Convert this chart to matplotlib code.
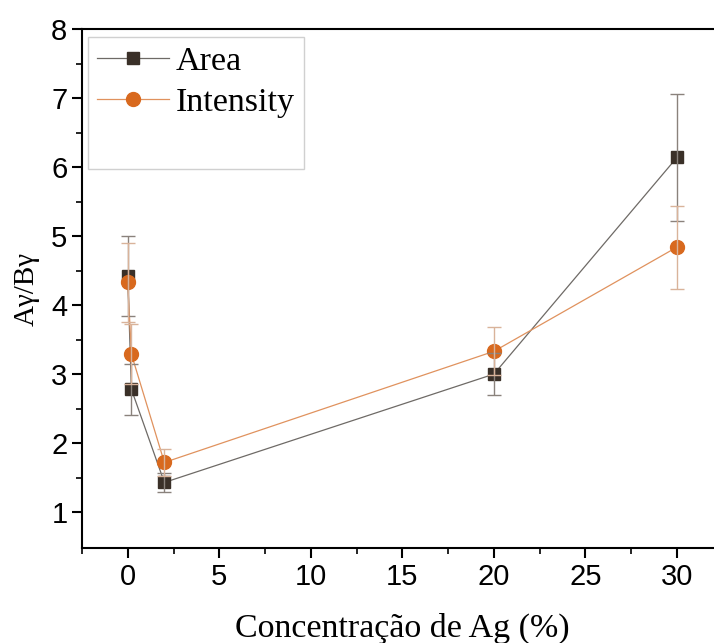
import numpy as np
import matplotlib.pyplot as plt

# dados
conc = [0, 0.2, 2, 20, 30]
area = [4.42, 2.78, 1.43, 3.00, 6.14]
area_err = [0.58, 0.37, 0.14, 0.30, 0.92]
intensity = [4.33, 3.29, 1.72, 3.33, 4.84]
intensity_err = [0.57, 0.44, 0.19, 0.35, 0.60]

serif = ['Liberation Serif', 'DejaVu Serif']
sans = ['Liberation Sans', 'DejaVu Sans']

fig = plt.figure(figsize=(7.14, 6.43), dpi=100)
ax = fig.add_axes([0.1148, 0.1477, 0.8975, 0.8072])

# linhas + marcadores
ax.plot(conc, area, color='#6e6a66', lw=0.9, marker='s', ms=9,
        mfc='#3a3028', mec='#3a3028', label='Area', zorder=2)
ax.plot(conc, intensity, color='#e0925e', lw=0.9, marker='o', ms=10,
        mfc='#d8691e', mec='#d8691e', label='Intensity', zorder=3)
ax.plot([], [], color='none', label=' ')

# barras de erro por cima
ax.errorbar(conc, area, yerr=area_err, fmt='none', ecolor='#8a827c',
            elinewidth=1.0, capsize=5, capthick=1.0, zorder=5)
ax.errorbar(conc, intensity, yerr=intensity_err, fmt='none', ecolor='#d9b39a',
            elinewidth=1.0, capsize=5, capthick=1.0, zorder=5)

ax.set_xlim(-2.5, 32.5)
ax.set_ylim(0.48, 8)
ax.set_xticks(np.arange(0, 31, 5))
ax.set_xticks(np.arange(-2.5, 32.6, 2.5), minor=True)
ax.set_yticks(np.arange(1, 9, 1))
ax.set_yticks(np.arange(1, 8.1, 0.5), minor=True)

for s in ['left', 'bottom', 'top']:
    ax.spines[s].set_linewidth(1.5)
ax.spines['right'].set_visible(False)

ax.tick_params(which='major', direction='out', length=7, width=1.5, labelsize=21)
ax.tick_params(which='minor', direction='out', length=4, width=1.2)
for lab in ax.get_xticklabels() + ax.get_yticklabels():
    lab.set_family(sans)

ax.set_xlabel('Concentração de Ag (%)', fontsize=24.5, family=serif, labelpad=16)
ax.set_ylabel('Aγ/Bγ', fontsize=21, family=serif, labelpad=8)

leg = ax.legend(loc='upper left', bbox_to_anchor=(0.009, 0.985), borderaxespad=0,
                prop={'family': serif, 'size': 24.5}, frameon=True, fancybox=False,
                edgecolor='#d0d0d0', framealpha=1, handlelength=2.1,
                handletextpad=0.2, labelspacing=0.3, borderpad=0.28)
leg.get_frame().set_linewidth(1.0)

plt.savefig('out.png', dpi=100)
